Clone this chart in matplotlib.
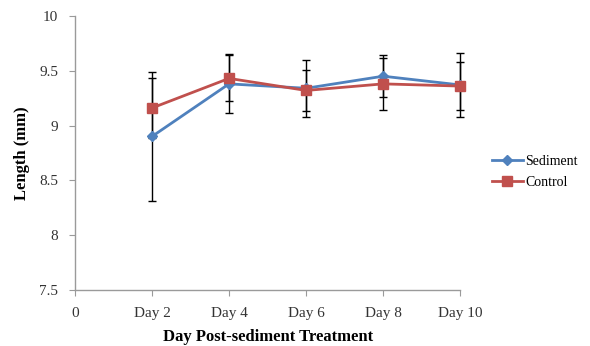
import matplotlib
matplotlib.use('Agg')
import matplotlib.pyplot as plt

days = [2, 4, 6, 8, 10]
tick_pos = [0, 2, 4, 6, 8, 10]
tick_labels = ["0", "Day 2", "Day 4", "Day 6", "Day 8", "Day 10"]

sediment = [8.90, 9.38, 9.34, 9.45, 9.37]
sediment_err = [0.59, 0.27, 0.26, 0.19, 0.29]
control = [9.16, 9.43, 9.32, 9.38, 9.36]
control_err = [0.27, 0.21, 0.19, 0.24, 0.22]

plt.rcParams['font.family'] = ['Liberation Serif', 'DejaVu Serif']

fig = plt.figure(figsize=(5.9, 3.46), dpi=100)
ax = fig.add_axes([0.127, 0.162, 0.653, 0.792])

# error bars behind the lines, not clipped at the right edge
for vals, errs in [(sediment, sediment_err), (control, control_err)]:
    eb = ax.errorbar(days, vals, yerr=errs, fmt='none', ecolor='black',
                     elinewidth=1, capsize=3, capthick=1, zorder=1)
    for art in eb.lines[1] + eb.lines[2]:
        art.set_clip_on(False)

ax.plot(days, sediment, color='#4F81BD', lw=2, marker='D', ms=5,
        label='Sediment', zorder=3, clip_on=False)
ax.plot(days, control, color='#C0504D', lw=2, marker='s', ms=7,
        label='Control', zorder=4, clip_on=False)

ax.set_xlim(0, 10)
ax.set_ylim(7.5, 10)
ax.set_xticks(tick_pos)
ax.set_xticklabels(tick_labels)
ax.set_yticks([7.5, 8, 8.5, 9, 9.5, 10])
ax.set_yticklabels(["7.5", "8", "8.5", "9", "9.5", "10"])

for s in ['top', 'right']:
    ax.spines[s].set_visible(False)
for s in ['left', 'bottom']:
    ax.spines[s].set_color('#9a9a9a')
    ax.spines[s].set_linewidth(1)
ax.tick_params(axis='both', colors='#9a9a9a', labelcolor='#333333',
               labelsize=11, length=4, direction='out')
ax.tick_params(axis='x', pad=8)
ax.tick_params(axis='y', pad=8)

ax.set_xlabel('Day Post-sediment Treatment', fontsize=12, fontweight='bold',
              labelpad=7)
ax.set_ylabel('Length (mm)', fontsize=12, fontweight='bold', labelpad=7)

ax.legend(loc='center left', bbox_to_anchor=(1.05, 0.43), frameon=False,
          fontsize=10, handlelength=2.2, handletextpad=0.2, labelspacing=0.6)

fig.savefig('out.png', dpi=100)
